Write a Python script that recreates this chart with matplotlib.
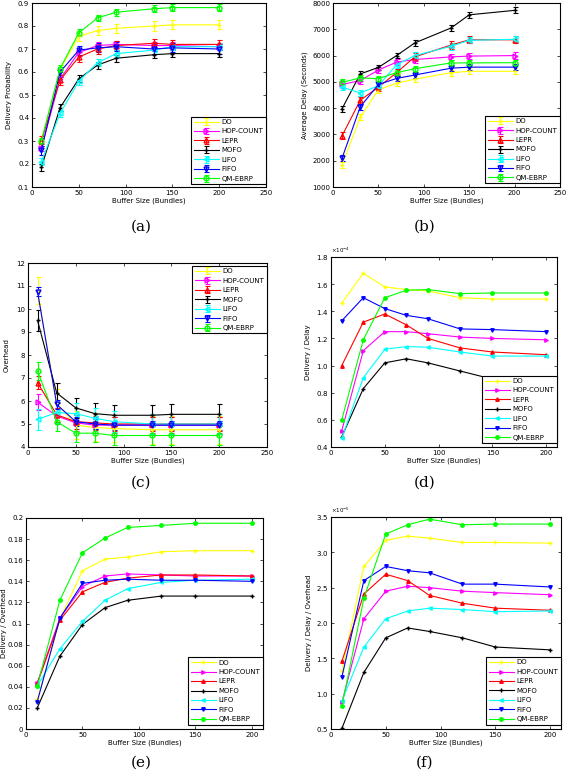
import matplotlib
matplotlib.use('Agg')
import matplotlib.pyplot as plt
import numpy as np
from matplotlib.ticker import ScalarFormatter

W, H = 566, 772

names = ['DO', 'HOP-COUNT', 'LEPR', 'MOFO', 'LIFO', 'FIFO', 'QM-EBRP']
colors = ['#ffff00', '#ff00ff', '#ff0000', '#000000', '#00ffff', '#0000ff', '#00ff00']
markers = ['+', '>', '^', '+', '<', 'v', 'o']

buf1 = [10, 30, 50, 70, 90, 130, 150, 200]
buf2 = [10, 30, 50, 70, 90, 120, 150, 200]

# (a) delivery probability
deliv = [
    [0.30, 0.61, 0.755, 0.78, 0.79, 0.80, 0.805, 0.805],
    [0.27, 0.57, 0.685, 0.715, 0.72, 0.715, 0.715, 0.71],
    [0.30, 0.565, 0.665, 0.70, 0.715, 0.725, 0.72, 0.72],
    [0.185, 0.445, 0.57, 0.63, 0.66, 0.675, 0.68, 0.68],
    [0.21, 0.42, 0.56, 0.64, 0.68, 0.695, 0.71, 0.71],
    [0.26, 0.60, 0.695, 0.705, 0.71, 0.70, 0.705, 0.70],
    [0.30, 0.615, 0.77, 0.835, 0.86, 0.875, 0.88, 0.88],
]
deliv_err = [0.02, 0.015, 0.02, 0.015, 0.015, 0.02, 0.015]

# (b) average delay
delay = [
    [1850, 3650, 4700, 4950, 5100, 5350, 5400, 5400],
    [4900, 5050, 5450, 5750, 5850, 5950, 5980, 6000],
    [2950, 4300, 4800, 5350, 5950, 6400, 6600, 6600],
    [3980, 5300, 5550, 6000, 6480, 7050, 7550, 7720],
    [4800, 4580, 4850, 5650, 6000, 6350, 6580, 6620],
    [2100, 4050, 4900, 5130, 5260, 5520, 5560, 5560],
    [4980, 5150, 5120, 5350, 5500, 5720, 5720, 5730],
]
delay_err = [110, 120, 140, 110, 120, 110, 110]

# (c) overhead
overhead = [
    [10.8, 5.9, 4.95, 4.85, 4.8, 4.75, 4.75, 4.75],
    [5.95, 5.35, 5.05, 4.95, 4.95, 4.95, 4.95, 4.95],
    [6.8, 5.4, 5.1, 5.05, 5.0, 5.0, 5.0, 5.0],
    [9.5, 6.35, 5.7, 5.45, 5.38, 5.38, 5.42, 5.42],
    [5.2, 5.5, 5.45, 5.25, 5.1, 5.0, 5.0, 5.0],
    [10.75, 5.85, 5.1, 5.0, 4.95, 4.95, 4.95, 4.95],
    [7.3, 5.1, 4.6, 4.6, 4.5, 4.5, 4.5, 4.5],
]
overhead_err = [0.6, 0.35, 0.3, 0.45, 0.45, 0.2, 0.4]

# (d) delivery / delay (x 1e-4)
dd = [
    [1.46, 1.68, 1.58, 1.56, 1.55, 1.50, 1.49, 1.49],
    [0.52, 1.11, 1.25, 1.25, 1.235, 1.21, 1.20, 1.19],
    [1.00, 1.32, 1.38, 1.30, 1.20, 1.13, 1.10, 1.08],
    [0.475, 0.83, 1.02, 1.05, 1.02, 0.96, 0.90, 0.88],
    [0.465, 0.91, 1.12, 1.14, 1.135, 1.10, 1.07, 1.07],
    [1.33, 1.50, 1.42, 1.37, 1.345, 1.27, 1.265, 1.25],
    [0.60, 1.19, 1.50, 1.555, 1.56, 1.53, 1.535, 1.535],
]

# (e) delivery / overhead
do_ = [
    [0.028, 0.104, 0.150, 0.161, 0.163, 0.168, 0.169, 0.169],
    [0.044, 0.105, 0.135, 0.145, 0.147, 0.146, 0.145, 0.145],
    [0.043, 0.103, 0.130, 0.139, 0.143, 0.146, 0.146, 0.145],
    [0.020, 0.069, 0.099, 0.115, 0.122, 0.126, 0.126, 0.126],
    [0.041, 0.076, 0.102, 0.122, 0.133, 0.139, 0.141, 0.142],
    [0.026, 0.105, 0.138, 0.141, 0.142, 0.141, 0.141, 0.140],
    [0.041, 0.122, 0.167, 0.181, 0.191, 0.193, 0.195, 0.195],
]

# (f) delivery / delay / overhead (x 1e-5)
ddo = [
    [1.32, 2.80, 3.17, 3.23, 3.20, 3.14, 3.14, 3.13],
    [0.88, 2.06, 2.45, 2.52, 2.50, 2.45, 2.43, 2.40],
    [1.46, 2.41, 2.69, 2.60, 2.39, 2.28, 2.21, 2.18],
    [0.51, 1.30, 1.79, 1.93, 1.88, 1.79, 1.66, 1.62],
    [0.90, 1.66, 2.06, 2.17, 2.21, 2.19, 2.16, 2.17],
    [1.24, 2.60, 2.80, 2.74, 2.71, 2.55, 2.55, 2.51],
    [0.83, 2.35, 3.26, 3.39, 3.47, 3.39, 3.40, 3.40],
]

fs = 5
plt.rcParams['font.family'] = 'DejaVu Sans'
fig = plt.figure(figsize=(W / 100, H / 100), dpi=100)


def add_ax(l, t, r, b):
    return fig.add_axes([l / W, 1 - b / H, (r - l) / W, (b - t) / H])


def style(ax, xmax, ylim, ylabel, yticks, xticks, ylab_x):
    ax.set_xlim(0, xmax)
    ax.set_ylim(*ylim)
    ax.set_xticks(xticks)
    ax.set_yticks(yticks)
    ax.tick_params(direction='in', top=True, right=True, labelsize=fs,
                   length=2.5, width=0.5, pad=2)
    ax.set_xlabel('Buffer Size (Bundles)', fontsize=fs, labelpad=1.5)
    ax.set_ylabel(ylabel, fontsize=fs)
    ax.yaxis.set_label_coords(ylab_x, 0.5)
    for s in ax.spines.values():
        s.set_linewidth(0.8)


def legend(ax, loc, anchor):
    lg = ax.legend(fontsize=fs, loc=loc, bbox_to_anchor=anchor, fancybox=False,
                   framealpha=1, edgecolor='black', handlelength=3.6,
                   borderpad=0.35, labelspacing=0.5, handletextpad=0.4,
                   borderaxespad=0)
    lg.get_frame().set_linewidth(0.8)


def err_plot(ax, x, data, errs):
    for i in range(len(names)):
        ax.errorbar(x, data[i], yerr=errs[i], color=colors[i], marker=markers[i],
                    markersize=3.5, markerfacecolor='none', lw=0.8, elinewidth=0.8,
                    capsize=1.8, capthick=0.8, label=names[i])


def line_plot(ax, x, data):
    for i in range(len(names)):
        ax.plot(x, data[i], color=colors[i], marker=markers[i], markersize=2.5,
                lw=0.8, label=names[i])


# (a)
ax = add_ax(32, 3, 266, 187)
err_plot(ax, buf1, deliv, deliv_err)
style(ax, 250, (0.1, 0.9), 'Delivery Probability', np.arange(0.1, 0.91, 0.1),
      range(0, 251, 50), -0.085)
ax.set_yticklabels(['0.1', '0.2', '0.3', '0.4', '0.5', '0.6', '0.7', '0.8', '0.9'])
legend(ax, 'lower right', (1.0, 0.015))

# (b)
ax = add_ax(333, 3, 560, 187)
err_plot(ax, buf1, delay, delay_err)
style(ax, 250, (1000, 8000), 'Average Delay (Seconds)', range(1000, 8001, 1000),
      range(0, 251, 50), -0.11)
legend(ax, 'lower right', (1.0, 0.02))

# (c)
ax = add_ax(28, 263, 267, 447)
err_plot(ax, buf1, overhead, overhead_err)
style(ax, 250, (4, 12), 'Overhead', range(4, 13), range(0, 251, 50), -0.075)
legend(ax, 'upper right', (1.0, 0.985))

# (d)
ax = add_ax(331, 257, 557, 447)
line_plot(ax, buf2, [[v * 1e-4 for v in row] for row in dd])
style(ax, 210, (0.4e-4, 1.8e-4), 'Delivery / Delay', np.arange(0.4e-4, 1.81e-4, 0.2e-4),
      range(0, 201, 50), -0.088)
fmt = ScalarFormatter(useMathText=True)
fmt.set_powerlimits((0, 0))
ax.yaxis.set_major_formatter(fmt)
ax.yaxis.get_offset_text().set_fontsize(fs - 1)
legend(ax, 'lower right', (1.0, 0.02))

# (e)
ax = add_ax(26, 518, 263, 729)
line_plot(ax, buf2, do_)
style(ax, 210, (0, 0.2), 'Delivery / Overhead', np.arange(0, 0.201, 0.02),
      range(0, 201, 50), -0.082)
ax.set_yticklabels(['0', '0.02', '0.04', '0.06', '0.08', '0.1', '0.12', '0.14', '0.16', '0.18', '0.2'])
legend(ax, 'lower right', (1.0, 0.02))

# (f)
ax = add_ax(331, 517, 561, 729)
line_plot(ax, buf2, [[v * 1e-5 for v in row] for row in ddo])
style(ax, 210, (0.5e-5, 3.5e-5), 'Delivery / Delay / Overhead', np.arange(0.5e-5, 3.51e-5, 0.5e-5),
      range(0, 201, 50), -0.083)
fmt = ScalarFormatter(useMathText=True)
fmt.set_powerlimits((0, 0))
ax.yaxis.set_major_formatter(fmt)
ax.yaxis.get_offset_text().set_fontsize(fs - 1)
legend(ax, 'lower right', (1.0, 0.02))

# captions
for lab, x, y in [('(a)', 141, 227), ('(b)', 425, 227), ('(c)', 141, 483),
                  ('(d)', 425, 483), ('(e)', 141, 763), ('(f)', 425, 763)]:
    fig.text(x / W, 1 - y / H, lab, fontsize=11, family='DejaVu Serif',
             ha='center', va='center')

fig.savefig('out.png', dpi=100)
